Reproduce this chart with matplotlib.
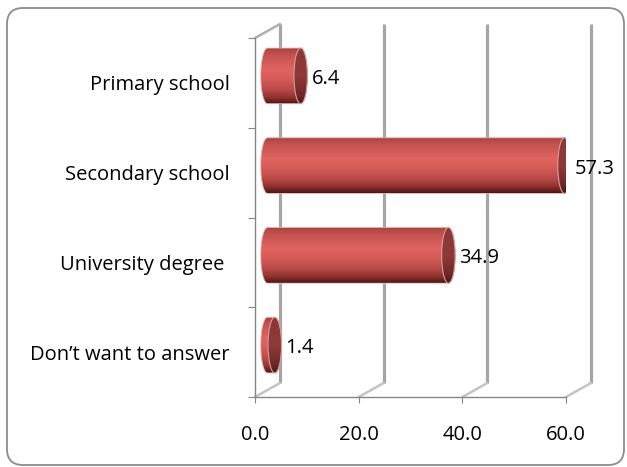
import numpy as np
import matplotlib
matplotlib.use('Agg')
import matplotlib.pyplot as plt
from matplotlib.transforms import ScaledTranslation, IdentityTransform
from matplotlib.patches import Ellipse, PathPatch, FancyBboxPatch, ConnectionPatch
from matplotlib.path import Path
from matplotlib.colors import LinearSegmentedColormap

categories = ["Primary school", "Secondary school", "University degree ", "Don\u2019t want to answer"]
values = [6.4, 57.3, 34.9, 1.4]
x_ticks = [0, 20, 40, 60]
x_tick_labels = ["0.0", "20.0", "40.0", "60.0"]

plt.rcParams['font.family'] = ['Open Sans', 'DejaVu Sans']
FS = 14.5

W, H = 627, 467
fig = plt.figure(figsize=(W / 100, H / 100), dpi=100)
fig.patch.set_facecolor('white')

# outer rounded border
border = FancyBboxPatch((7, 2), 617, 457, boxstyle='round,pad=0,rounding_size=16',
                        transform=IdentityTransform(), facecolor='none',
                        edgecolor='#8c8c8c', lw=1.3)
fig.patches.append(border)
border.set_figure(fig)

ax = fig.add_axes([255 / W, 1 - 397 / H, (566 - 255) / W, (397 - 38) / H])
ax.set_xlim(0, 60)
ax.set_ylim(3.5, -0.5)
ax.patch.set_visible(False)
for s in ['top', 'right']:
    ax.spines[s].set_visible(False)
for s in ['left', 'bottom']:
    ax.spines[s].set_color('#868686')
    ax.spines[s].set_linewidth(1.0)

ax.set_xticks(x_ticks)
ax.set_xticklabels(x_tick_labels)
ax.tick_params(axis='x', length=4, color='#868686', pad=16, labelsize=FS)

ax.set_yticks(np.arange(-0.5, len(categories), 1.0))
ax.set_yticklabels([])
ax.tick_params(axis='y', which='major', length=5, color='#868686')
ax.set_yticks(np.arange(len(categories)), minor=True)
ax.set_yticklabels(categories, minor=True)
ax.tick_params(axis='y', which='minor', length=0, pad=18, labelsize=FS)

back = ax.transData + ScaledTranslation(0.25, 0.14, fig.dpi_scale_trans)
mid = ax.transData + ScaledTranslation(0.125, 0.07, fig.dpi_scale_trans)

# back wall gridlines and floor/wall edges
for v in x_ticks:
    ax.plot([v, v], [-0.5, 3.5], transform=back, color='#a6a6a6', lw=2.3,
            solid_capstyle='butt', clip_on=False, zorder=1)
    cp = ConnectionPatch(xyA=(v, 3.5), coordsA=ax.transData, xyB=(v, 3.5), coordsB=back,
                         color='#c4c4c4', lw=1.8, zorder=1)
    ax.add_artist(cp)
cp = ConnectionPatch(xyA=(0, -0.5), coordsA=ax.transData, xyB=(0, -0.5), coordsB=back,
                     color='#b0b0b0', lw=1.8, zorder=1)
ax.add_artist(cp)

body_cmap = LinearSegmentedColormap.from_list('body', [
    (0.0, '#a9423f'), (0.12, '#c4524f'), (0.38, '#e0645f'), (0.55, '#d65c58'),
    (0.75, '#b94946'), (0.9, '#8a2f2d'), (1.0, '#4c1715')])
cap_cmap = LinearSegmentedColormap.from_list('cap', [
    (0.0, '#8a3735'), (0.5, '#8e3a38'), (0.85, '#6e2826'), (1.0, '#4a1816')])
grad = np.linspace(0, 1, 100).reshape(-1, 1)

h = 0.62
b = h / 2
a = 1.3
for i, v in enumerate(values):
    yc = i
    t1 = np.linspace(np.pi / 2, 3 * np.pi / 2, 40)
    t2 = np.linspace(-np.pi / 2, np.pi / 2, 40)
    left = np.column_stack([a * np.cos(t1), yc + b * np.sin(t1)])
    right = np.column_stack([v + a * np.cos(t2), yc + b * np.sin(t2)])
    verts = np.vstack([left, right, left[:1]])
    patch = PathPatch(Path(verts, closed=True), transform=mid, facecolor='none',
                      edgecolor='#e8b0ae', lw=0.6, zorder=4)
    ax.add_patch(patch)
    im = ax.imshow(grad, extent=(-a, v + a, yc + b, yc - b), cmap=body_cmap,
                   aspect='auto', transform=mid, zorder=3, interpolation='bilinear',
                   origin='upper')
    im.set_clip_path(patch)
    cap = Ellipse((v, yc), 2 * a, 2 * b, transform=mid, facecolor='none',
                  edgecolor='#d99c9a', lw=0.8, zorder=6)
    ax.add_patch(cap)
    im2 = ax.imshow(grad, extent=(v - a, v + a, yc + b, yc - b), cmap=cap_cmap,
                    aspect='auto', transform=mid, zorder=5, interpolation='bilinear',
                    origin='upper')
    im2.set_clip_path(cap)
    ax.text(v + a, yc, f"{v:.1f}", transform=mid + ScaledTranslation(0.04, -0.03, fig.dpi_scale_trans),
            ha='left', va='center', fontsize=FS, color='black', zorder=7)

ax.set_xlim(0, 60)
ax.set_ylim(3.5, -0.5)
fig.savefig('out.png', dpi=100)
